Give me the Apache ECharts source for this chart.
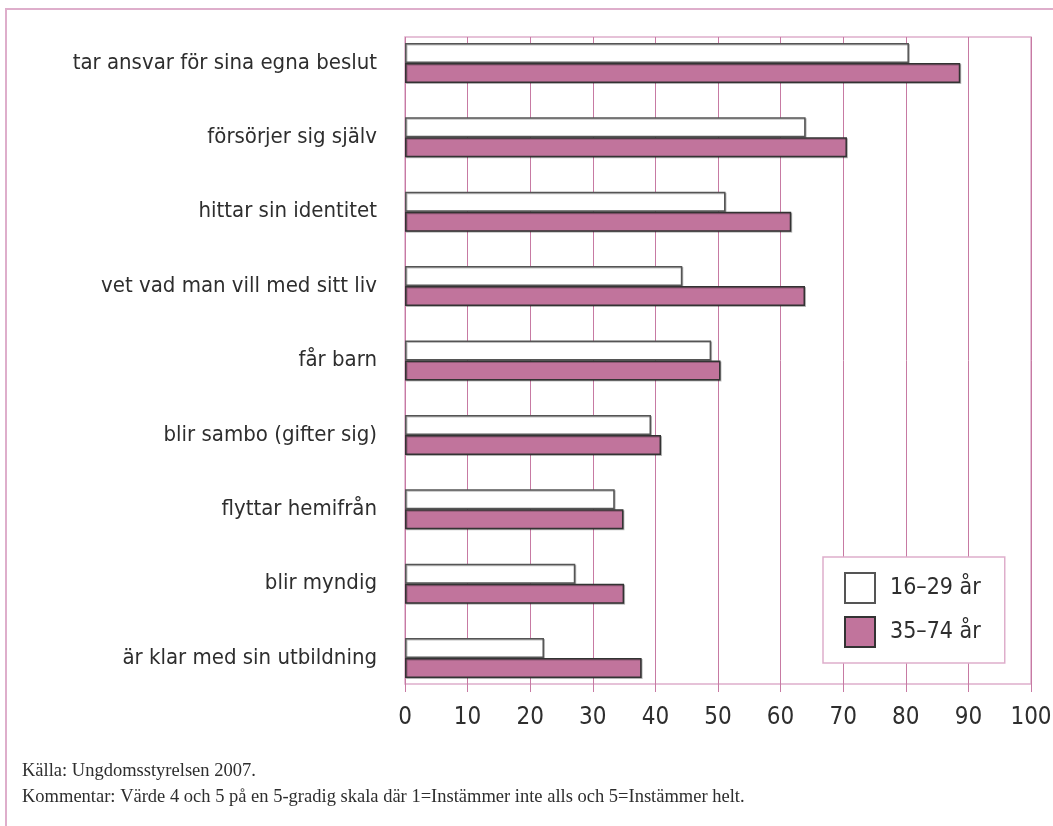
<!DOCTYPE html>
<html>
<head>
<meta charset="utf-8">
<script src="https://cdn.jsdelivr.net/npm/echarts@6/dist/echarts.min.js"></script>
<style>
  html, body { margin: 0; padding: 0; background: #fff; }
  #chart { width: 1053px; height: 826px; }
</style>
</head>
<body>
<div id="chart"></div>
<script>
(function() {
  var categories = [
    'tar ansvar för sina egna beslut',
    'försörjer sig själv',
    'hittar sin identitet',
    'vet vad man vill med sitt liv',
    'får barn',
    'blir sambo (gifter sig)',
    'flyttar hemifrån',
    'blir myndig',
    'är klar med sin utbildning'
  ];
  var young = [80.5, 64.0, 51.2, 44.3, 48.9, 39.3, 33.5, 27.2, 22.2];
  var older = [88.7, 70.6, 61.7, 63.9, 50.4, 40.9, 34.9, 35.0, 37.8];
  var seriesNames = ['16–29 år', '35–74 år'];
  var xTicks = [0, 10, 20, 30, 40, 50, 60, 70, 80, 90, 100];
  var source = 'Källa: Ungdomsstyrelsen 2007.';
  var comment = 'Kommentar: Värde 4 och 5 på en 5-gradig skala där 1=Instämmer inte alls och 5=Instämmer helt.';

  var purple = '#c1749c';
  var gridPink = '#c77aa3';
  var lightPink = '#deaecb';
  var ink = '#2e2e2e';
  var sans = '"DejaVu Sans Condensed", "Liberation Sans", sans-serif';
  var serif = '"Liberation Serif", "DejaVu Serif", serif';

  var chart = echarts.init(document.getElementById('chart'), null, { renderer: 'canvas' });
  chart.setOption({
    animation: false,
    backgroundColor: '#fff',
    grid: [
      // visible frame with gridlines
      { left: 405, right: 22, top: 37, height: 647, show: true, borderColor: lightPink, borderWidth: 1.5, outerBoundsMode: 'none' },
      // bars + category labels
      { left: 405, right: 22, top: 25.8, height: 669.4, outerBoundsMode: 'none' }
    ],
    xAxis: [{
      gridIndex: 0,
      type: 'value',
      min: xTicks[0],
      max: xTicks[xTicks.length - 1],
      interval: 10,
      axisLine: { show: false },
      axisTick: { show: true, length: 8, lineStyle: { color: gridPink, width: 1 } },
      axisLabel: { color: ink, fontFamily: sans, fontSize: 24, margin: 22 },
      splitLine: { show: true, lineStyle: { color: gridPink, width: 1 } }
    }, {
      gridIndex: 1,
      type: 'value',
      min: 0,
      max: 100,
      show: false
    }],
    yAxis: [{
      gridIndex: 0,
      type: 'value',
      min: 0,
      max: 1,
      show: false
    }, {
      gridIndex: 1,
      type: 'category',
      inverse: true,
      data: categories,
      axisLine: { show: false },
      axisTick: { show: false },
      axisLabel: { color: ink, fontFamily: sans, fontSize: 22, margin: 28 }
    }],
    legend: {
      orient: 'vertical',
      left: 823,
      top: 557,
      padding: [15, 24, 15, 21],
      itemGap: 12,
      itemWidth: 30,
      itemHeight: 30,
      backgroundColor: '#fff',
      borderColor: lightPink,
      borderWidth: 1.5,
      textStyle: { color: ink, fontFamily: sans, fontSize: 23, padding: [0, 0, 0, 10] },
      data: [
        { name: seriesNames[0], icon: 'rect' },
        { name: seriesNames[1], icon: 'rect' }
      ]
    },
    series: [{
      name: seriesNames[0],
      type: 'bar',
      xAxisIndex: 1,
      yAxisIndex: 1,
      data: young,
      barWidth: 20,
      barGap: '0%',
      itemStyle: { color: '#fff', borderColor: '#555', borderWidth: 1.5,
        shadowColor: 'rgba(0,0,0,0.25)', shadowOffsetX: 1, shadowOffsetY: 1 }
    }, {
      name: seriesNames[1],
      type: 'bar',
      xAxisIndex: 1,
      yAxisIndex: 1,
      data: older,
      barWidth: 20,
      barGap: '0%',
      itemStyle: { color: purple, borderColor: '#333', borderWidth: 1.5,
        shadowColor: 'rgba(0,0,0,0.25)', shadowOffsetX: 1, shadowOffsetY: 1 }
    }],
    graphic: [{
      type: 'rect',
      silent: true,
      shape: { x: 6, y: 9, width: 1200, height: 1000 },
      style: { fill: null, stroke: lightPink, lineWidth: 2 }
    }, {
      type: 'text',
      left: 22,
      top: 762,
      style: { text: source, fill: ink, font: '18.5px ' + serif }
    }, {
      type: 'text',
      left: 22,
      top: 788,
      style: { text: comment, fill: ink, font: '18.5px ' + serif }
    }]
  });
  window.addEventListener('resize', function() { chart.resize(); });
})();
</script>
</body>
</html>
